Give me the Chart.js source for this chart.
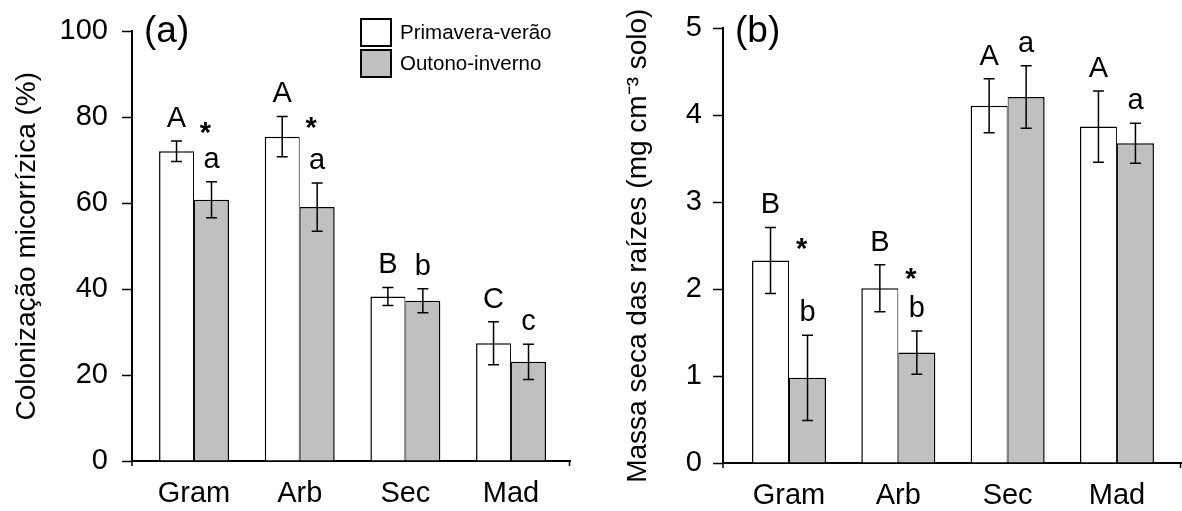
<!DOCTYPE html>
<html>
<head>
<meta charset="utf-8">
<script src="https://cdn.jsdelivr.net/npm/chart.js@4.4.1/dist/chart.umd.min.js"></script>
<style>
  html, body { margin:0; padding:0; background:#fff; }
  .panel { position:absolute; top:0; height:511px; }
</style>
</head>
<body>
<div class="panel" style="left:0;width:590px"><canvas id="chartA"></canvas></div>
<div class="panel" style="left:590px;width:592px"><canvas id="chartB"></canvas></div>
<script>
// ---------- data ----------
const categories = ["Gram", "Arb", "Sec", "Mad"];
const seasonLabels = ["Primavera-verão", "Outono-inverno"];

// (a) colonização micorrízica (%)
const colonSpring    = [72.1, 75.5, 38.3, 27.4];
const colonSpringErr = [2.4, 4.7, 2.1, 5.0];
const colonAutumn    = [60.8, 59.1, 37.3, 23.1];
const colonAutumnErr = [4.2, 5.6, 2.8, 4.1];
const colonSpringLetters = ["A", "A", "B", "C"];
const colonAutumnLetters = ["a", "a", "b", "c"];
const colonStars = [78.0, 79.1, null, null];

// (b) massa seca das raízes (mg cm-3 solo)
const massSpring    = [2.33, 2.01, 4.11, 3.87];
const massSpringErr = [0.38, 0.27, 0.31, 0.41];
const massAutumn    = [0.98, 1.27, 4.21, 3.68];
const massAutumnErr = [0.49, 0.25, 0.36, 0.23];
const massSpringLetters = ["B", "B", "A", "A"];
const massAutumnLetters = ["b", "b", "a", "a"];
const massStars = [2.54, 2.2, null, null];

const FONT = "'Liberation Sans', Arial, sans-serif";
Chart.defaults.font.family = FONT;
Chart.defaults.color = "#000";

function points(values){
  return values.map((v,i)=>({x:i+1, y:v}));
}

// error bars, letters, asterisks, panel tag, legend
const decorations = {
  id: "decorations",
  afterDatasetsDraw(chart, args, opts){
    const ctx = chart.ctx;
    const y = chart.scales.y;
    const area = chart.chartArea;
    ctx.save();
    ctx.strokeStyle = "#000";
    ctx.fillStyle = "#000";
    ctx.lineWidth = 1.5;
    ctx.textAlign = "center";
    ctx.textBaseline = "alphabetic";
    ctx.font = "29px " + FONT;

    chart.data.datasets.forEach((ds, di)=>{
      const meta = chart.getDatasetMeta(di);
      meta.data.forEach((bar, i)=>{
        const v = ds.data[i].y, e = ds.errors[i];
        const top = y.getPixelForValue(v + e);
        const bot = y.getPixelForValue(v - e);
        ctx.beginPath();
        ctx.moveTo(bar.x, top); ctx.lineTo(bar.x, bot);
        ctx.moveTo(bar.x - 5.5, top); ctx.lineTo(bar.x + 5.5, top);
        ctx.moveTo(bar.x - 5.5, bot); ctx.lineTo(bar.x + 5.5, bot);
        ctx.stroke();
        ctx.fillText(ds.letters[i], bar.x, top - 14);
      });
    });

    // asterisks next to the second series
    const meta2 = chart.getDatasetMeta(1);
    ctx.font = "bold 29px " + FONT;
    opts.stars.forEach((s, i)=>{
      if (s === null) return;
      ctx.fillText("*", meta2.data[i].x - 6, y.getPixelForValue(s) + 16);
    });

    // small end ticks on the x axis
    ctx.lineWidth = 1.5;
    ctx.beginPath();
    ctx.moveTo(area.left, area.bottom); ctx.lineTo(area.left, area.bottom + 5);
    ctx.moveTo(area.right - 0.5, area.bottom); ctx.lineTo(area.right - 0.5, area.bottom + 5);
    ctx.stroke();

    // panel tag
    ctx.textAlign = "left";
    ctx.font = "37px " + FONT;
    ctx.fillText(opts.tag, area.left + 12, 42);

    // legend
    if (opts.legend){
      ctx.font = "20.5px " + FONT;
      ctx.textBaseline = "middle";
      chart.data.datasets.forEach((ds, di)=>{
        const bx = area.left + 229, by = 19 + di * 31;
        ctx.fillStyle = ds.backgroundColor;
        ctx.fillRect(bx, by, 30, 27);
        ctx.lineWidth = 2;
        ctx.strokeRect(bx, by, 30, 27);
        ctx.fillStyle = "#000";
        ctx.fillText(ds.label, bx + 39, by + 14);
      });
    }
    ctx.restore();
  }
};

function makeChart(id, cfg){
  const spring = {
    label: seasonLabels[0], data: points(cfg.spring), errors: cfg.springErr, letters: cfg.springLetters,
    backgroundColor: "#ffffff", borderColor: "#000",
    borderWidth: {left:1.5, top:1.5, right:1, bottom:0}, borderSkipped: false
  };
  const autumn = {
    label: seasonLabels[1], data: points(cfg.autumn), errors: cfg.autumnErr, letters: cfg.autumnLetters,
    backgroundColor: "#c0c0c0", borderColor: "#000",
    borderWidth: {left:1, top:1.5, right:1.5, bottom:0}, borderSkipped: false
  };
  return new Chart(document.getElementById(id), {
    type: "bar",
    data: { datasets: [spring, autumn] },
    options: {
      responsive: true,
      maintainAspectRatio: false,
      animation: false,
      categoryPercentage: cfg.catPct,
      barPercentage: 1,
      layout: { padding: { left: 0, top: 25, right: cfg.padRight, bottom: 0 } },
      plugins: {
        legend: { display: false },
        tooltip: { enabled: false },
        decorations: { stars: cfg.stars, tag: cfg.tag, legend: cfg.legend }
      },
      scales: {
        x: {
          type: "linear",
          offset: false,
          bounds: "data",
          min: cfg.xMin, max: cfg.xMax,
          grid: { display: false },
          border: { display: true, color: "#000", width: 2 },
          afterBuildTicks: s => { s.ticks = categories.map((c,i)=>({value:i+1})); },
          afterFit: s => { s.height = cfg.xHeight; },
          ticks: {
            autoSkip: false, maxRotation: 0, padding: 8,
            font: { size: 29 },
            callback: v => categories[v-1] || ""
          }
        },
        y: {
          min: 0, max: cfg.yMax,
          grid: { drawOnChartArea: false, drawTicks: true, tickLength: 10, color: "#000", tickWidth: 1.5 },
          border: { display: true, color: "#000", width: 2 },
          afterFit: s => { s.width = cfg.yWidth; },
          ticks: { stepSize: cfg.yStep, padding: cfg.yPad, font: { size: 29 } },
          title: {
            display: true, text: cfg.yTitle,
            font: { size: 28 }, padding: { top: cfg.titlePad, bottom: 0 }
          }
        }
      }
    },
    plugins: [decorations]
  });
}

makeChart("chartA", {
  spring: colonSpring, springErr: colonSpringErr, springLetters: colonSpringLetters,
  autumn: colonAutumn, autumnErr: colonAutumnErr, autumnLetters: colonAutumnLetters,
  stars: colonStars, tag: "(a)", legend: true,
  yMax: 100, yStep: 20, yTitle: "Colonização micorrízica (%)",
  xMin: 0.413, xMax: 4.558, catPct: 0.662,
  yWidth: 132, yPad: 14, titlePad: 10, padRight: 20, xHeight: 50
});

makeChart("chartB", {
  spring: massSpring, springErr: massSpringErr, springLetters: massSpringLetters,
  autumn: massAutumn, autumnErr: massAutumnErr, autumnLetters: massAutumnLetters,
  stars: massStars, tag: "(b)", legend: false,
  yMax: 5, yStep: 1, yTitle: "Massa seca das raízes (mg cm⁻³ solo)",
  xMin: 0.396, xMax: 4.586, catPct: 0.677,
  yWidth: 133, yPad: 11, titlePad: 31, padRight: 1, xHeight: 48
});
</script>
</body>
</html>
